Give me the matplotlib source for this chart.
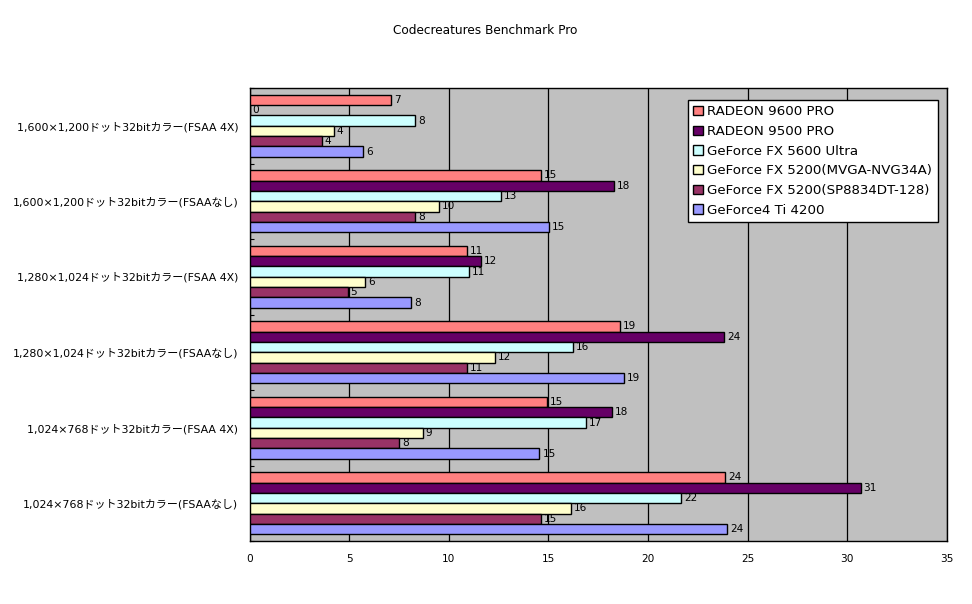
import matplotlib
matplotlib.use("Agg")
import matplotlib.pyplot as plt
import numpy as np

plt.rcParams['font.family'] = ['DejaVu Sans', 'Noto Sans CJK JP']

categories = [
    "1,600×1,200ドット32bitカラー(FSAA 4X)",
    "1,600×1,200ドット32bitカラー(FSAAなし)",
    "1,280×1,024ドット32bitカラー(FSAA 4X)",
    "1,280×1,024ドット32bitカラー(FSAAなし)",
    "1,024×768ドット32bitカラー(FSAA 4X)",
    "1,024×768ドット32bitカラー(FSAAなし)",
]
series_names = [
    "RADEON 9600 PRO",
    "RADEON 9500 PRO",
    "GeForce FX 5600 Ultra",
    "GeForce FX 5200(MVGA-NVG34A)",
    "GeForce FX 5200(SP8834DT-128)",
    "GeForce4 Ti 4200",
]
radeon_9600 = [7.12, 14.62, 10.92, 18.57, 14.92, 23.85]
radeon_9500 = [0.0, 18.29, 11.62, 23.80, 18.17, 30.67]
fx_5600 = [8.32, 12.62, 11.02, 16.22, 16.90, 21.67]
fx_5200_mvga = [4.22, 9.52, 5.82, 12.32, 8.70, 16.12]
fx_5200_sp = [3.62, 8.32, 4.92, 10.92, 7.52, 14.63]
ti_4200 = [5.72, 15.02, 8.12, 18.77, 14.55, 23.98]
series_values = [radeon_9600, radeon_9500, fx_5600, fx_5200_mvga, fx_5200_sp, ti_4200]
colors = ["#FF8080", "#660066", "#CCFFFF", "#FFFFCC", "#993366", "#9999FF"]
x_ticks = [0, 5, 10, 15, 20, 25, 30, 35]

fig = plt.figure(figsize=(9.72, 6.04), dpi=100)
ax = fig.add_axes([249.5/972, 1-541/604, (947-249.5)/972, (541-88)/604])
ax.set_facecolor("#C0C0C0")

n_groups = len(categories)
n_series = len(series_values)
bar_h = 0.1365
group_pos = np.arange(n_groups)
for i, (name, vals, c) in enumerate(zip(series_names, series_values, colors)):
    offs = (i - (n_series - 1) / 2) * bar_h
    y = group_pos + offs
    ax.barh(y, vals, height=bar_h, color=c, edgecolor="black",
            linewidth=1.0, label=name, zorder=3)
    for yy, v in zip(y, vals):
        ax.text(v + 0.15, yy, f"{v:.0f}", va="center", ha="left",
                fontsize=7.6, color="black", zorder=4)

ax.set_xlim(0, 35)
ax.set_ylim(n_groups - 0.5, -0.5)
ax.set_xticks(x_ticks)
ax.set_xticklabels([str(t) for t in x_ticks], fontsize=7.6)
ax.tick_params(axis="x", length=0, pad=9)
ax.set_yticks(group_pos)
ax.set_yticklabels(categories, fontsize=7.9)
ax.tick_params(axis="y", which="major", length=0, pad=8)
ax.set_yticks(np.arange(n_groups + 1) - 0.5, minor=True)
ax.tick_params(axis="y", which="minor", length=3, direction="in", width=0.8)
ax.xaxis.grid(True, color="black", linewidth=0.9, zorder=1)
ax.set_axisbelow(True)
for sp in ax.spines.values():
    sp.set_color("black")
    sp.set_linewidth(1.0)

leg = ax.legend(loc="upper left", bbox_to_anchor=((688-249.5)/697.5, 1-(100-88)/453),
                fontsize=9.6, frameon=True, fancybox=False, edgecolor="black",
                framealpha=1, borderpad=0.4, labelspacing=0.5, handlelength=0.7,
                handleheight=0.7, handletextpad=0.35, borderaxespad=0)
leg.get_frame().set_linewidth(1.0)
leg.set_zorder(10)

fig.text(485/972, 1-30/604, "Codecreatures Benchmark Pro", ha="center", va="center", fontsize=8.7)

fig.savefig("out.png", dpi=100, facecolor="white")
